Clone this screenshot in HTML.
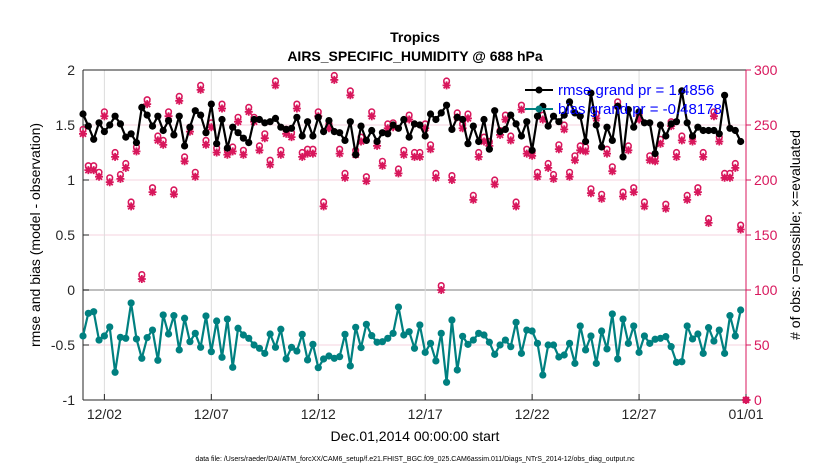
<!DOCTYPE html>
<html><head><meta charset="utf-8"><style>
html,body{margin:0;padding:0;background:#fff;}
svg{display:block;font-family:"Liberation Sans",sans-serif;}
</style></head><body>
<svg id="chart" width="830" height="470" viewBox="0 0 830 470" xmlns="http://www.w3.org/2000/svg">
<g id="grid"></g>
<g id="axes"></g>
<g id="series"></g>
<text x="415" y="42" text-anchor="middle" font-size="14" font-weight="bold">Tropics</text>
<text x="415" y="61" text-anchor="middle" font-size="14" font-weight="bold">AIRS_SPECIFIC_HUMIDITY @ 688 hPa</text>
<text transform="translate(40,235) rotate(-90)" text-anchor="middle" font-size="14">rmse and bias (model - observation)</text>
<text transform="translate(800,235) rotate(-90)" text-anchor="middle" font-size="14"># of obs: o=possible; ×=evaluated</text>
<text x="415" y="441" text-anchor="middle" font-size="14">Dec.01,2014 00:00:00 start</text>
<text x="415" y="461" text-anchor="middle" font-size="7">data file: /Users/raeder/DAI/ATM_forcXX/CAM6_setup/f.e21.FHIST_BGC.f09_025.CAM6assim.011/Diags_NTrS_2014-12/obs_diag_output.nc</text>
<g id="legend">
<line x1="525" y1="90" x2="553" y2="90" stroke="#000" stroke-width="2"/>
<circle cx="539" cy="90" r="3.5" fill="#000"/>
<text x="558" y="95" font-size="15" fill="#0000ff">rmse grand pr = 1.4856</text>
<line x1="525" y1="109" x2="553" y2="109" stroke="#008080" stroke-width="2"/>
<circle cx="539" cy="109" r="3.5" fill="#008080"/>
<text x="558" y="114" font-size="15" fill="#0000ff">bias grand pr = -0.48178</text>
</g>
</svg>
<script>
const rmse=[1.60,1.49,1.37,1.52,1.44,1.50,1.58,1.51,1.39,1.42,1.34,1.66,1.59,1.49,1.58,1.45,1.54,1.41,1.58,1.31,1.48,1.63,1.59,1.43,1.69,1.33,1.55,1.29,1.48,1.43,1.38,1.34,
1.55,1.55,1.52,1.53,1.56,1.48,1.46,1.47,1.57,1.40,1.53,1.40,1.57,1.44,1.54,1.44,1.43,1.36,1.53,1.23,1.49,1.36,1.45,1.35,1.43,1.42,1.50,1.47,1.55,1.39,1.51,
1.50,1.40,1.60,1.55,1.61,1.68,1.46,1.57,1.55,1.33,1.49,1.35,1.55,1.28,1.63,1.44,1.46,1.59,1.51,1.40,1.53,1.27,1.58,1.67,1.49,1.58,1.53,1.59,
1.71,1.61,1.58,1.35,1.79,1.50,1.30,1.48,1.36,1.67,1.21,1.64,1.48,1.62,1.52,1.52,1.24,1.50,1.40,1.51,1.53,1.81,1.52,1.40,1.48,1.45,1.45,1.45,1.42,1.77,1.47,1.45,1.35,null];
const bias=[-0.418,-0.212,-0.197,-0.455,-0.418,-0.336,-0.748,-0.43,-0.439,-0.118,-0.445,-0.621,-0.433,-0.364,-0.639,-0.227,-0.4,-0.233,-0.545,-0.257,-0.47,-0.394,-0.521,-0.236,-0.561,-0.282,-0.612,-0.264,-0.703,-0.348,-0.409,-0.439,-0.5,-0.53,-0.576,-0.4,-0.521,-0.357,-0.627,-0.521,-0.555,-0.403,
-0.636,-0.494,-0.706,-0.627,-0.6,-0.621,-0.606,-0.403,-0.69,-0.339,-0.524,-0.312,-0.415,-0.475,-0.47,-0.439,-0.394,-0.155,-0.409,-0.379,-0.53,-0.318,-0.567,-0.485,-0.645,-0.394,-0.839,-0.273,-0.727,-0.421,-0.494,-0.455,-0.394,-0.409,-0.475,-0.585,-0.5,-0.455,-0.515,-0.294,-0.576,
-0.364,-0.373,-0.485,-0.773,-0.5,-0.5,-0.609,-0.591,-0.485,-0.667,-0.327,-0.545,-0.418,-0.667,-0.373,-0.536,-0.218,-0.627,-0.264,-0.485,-0.327,-0.567,-0.418,-0.485,-0.448,-0.439,-0.424,-0.515,-0.658,-0.652,-0.327,-0.445,-0.4,-0.576,-0.342,-0.464,-0.364,-0.576,-0.233,-0.418,-0.182,null];
const evaluated=[242,209,209,203,258,198,221,201,211,176,226,110,269,189,236,232,258,187,272,217,244,203,282,232,248,225,265,223,226,253,223,262,
253,227,238,214,286,223,242,239,265,221,224,224,258,176,247,291,224,202,277,223,235,199,258,231,213,247,248,206,223,255,221,
221,247,228,202,100,286,200,257,247,256,182,221,235,231,196,241,255,236,176,264,224,222,203,255,211,201,228,246,203,
218,227,226,188,256,183,224,208,267,185,227,189,255,176,218,217,233,174,249,221,236,182,235,189,221,161,258,235,202,202,211,155,0];
const possible=[246,213,213,207,262,202,225,205,215,180,230,114,273,193,240,236,262,191,276,221,248,207,286,236,252,229,269,227,230,257,227,266,
257,231,242,218,290,227,246,243,269,225,228,228,262,180,251,295,228,206,281,227,239,203,262,235,217,251,252,210,227,259,225,
225,251,232,206,104,290,204,261,251,260,186,225,239,235,200,245,259,240,180,268,228,226,207,259,215,205,232,250,207,
222,231,230,192,260,187,228,212,271,189,231,193,259,180,222,221,237,178,253,225,240,186,239,193,225,165,262,239,206,206,215,159,0];
const leftTicks=[2,1.5,1,0.5,0,-0.5,-1];
const leftTickLabels=["2","1.5","1","0.5","0","-0.5","-1"];
const rightTicks=[300,250,200,150,100,50,0];
const dateTicks=[1,6,11,16,21,26,31];
const dateLabels=["12/02","12/07","12/12","12/17","12/22","12/27","01/01"];

const X0=83,X1=746,Y0=70,Y1=400;
const xDay=d=>X0+(d/31)*(X1-X0);
const xIdx=i=>xDay(i*0.25);
const yL=v=>Y0+(2-v)/3*(Y1-Y0);
const yR=c=>Y1-c/300*(Y1-Y0);
const NS="http://www.w3.org/2000/svg";
const MAG="#d8175c";
function mk(tag,attrs,parent){const e=document.createElementNS(NS,tag);for(const k in attrs)e.setAttribute(k,attrs[k]);parent.appendChild(e);return e;}
const grid=document.getElementById('grid'),axes=document.getElementById('axes'),ser=document.getElementById('series');

leftTicks.forEach(v=>{
  const l=mk('line',{x1:X0,x2:X1,y1:yL(v),y2:yL(v),stroke:v===0?'#a8a8a8':'#f6d3df','stroke-width':v===0?1.5:1},grid);
  
  
});
dateTicks.forEach(d=>{
  const l=mk('line',{x1:xDay(d),x2:xDay(d),y1:Y0,y2:Y1,stroke:'#dcdcdc','stroke-width':1},grid);
  
  
});
mk('line',{x1:X0,x2:X1,y1:Y0,y2:Y0,stroke:'#262626','stroke-width':1},axes);
mk('line',{x1:X0,x2:X1,y1:Y1,y2:Y1,stroke:'#262626','stroke-width':1},axes);
mk('line',{x1:X0,x2:X0,y1:Y0,y2:Y1,stroke:'#262626','stroke-width':1},axes);
mk('line',{x1:X1,x2:X1,y1:Y0,y2:Y1,stroke:MAG,'stroke-width':1},axes);
leftTicks.forEach((v,i)=>{
  mk('line',{x1:X0,x2:X0+6,y1:yL(v),y2:yL(v),stroke:'#262626'},axes);
  const t=mk('text',{x:X0-8,y:yL(v)+5,'text-anchor':'end','font-size':14,fill:'#262626'},axes);
  t.textContent=leftTickLabels[i];
  
  
});
rightTicks.forEach(c=>{
  mk('line',{x1:X1,x2:X1+5,y1:yR(c),y2:yR(c),stroke:MAG},axes);
  const t=mk('text',{x:X1+8,y:yR(c)+5,'font-size':14,fill:MAG},axes);
  t.textContent=String(c);
  
  
});
dateTicks.forEach((d,i)=>{
  mk('line',{x1:xDay(d),x2:xDay(d),y1:Y1-6,y2:Y1,stroke:'#262626'},axes);
  const t=mk('text',{x:xDay(d),y:Y1+19,'text-anchor':'middle','font-size':14,fill:'#262626'},axes);
  t.textContent=dateLabels[i];
  
  
});
possible.forEach((c,i)=>{
  const g=mk('circle',{cx:xIdx(i),cy:yR(c),r:2.8,fill:'none',stroke:MAG,'stroke-width':1.6},ser);
  
  
});
evaluated.forEach((c,i)=>{
  const x=xIdx(i),y=yR(c),s=4;
  const p=mk('path',{d:`M${x-s} ${y}H${x+s}M${x} ${y-s}V${y+s}M${x-3} ${y-3}L${x+3} ${y+3}M${x-3} ${y+3}L${x+3} ${y-3}`,stroke:MAG,'stroke-width':1.8},ser);
  
  
});
function drawLine(arr,color,name){
  let d='';arr.forEach((v,i)=>{if(v==null)return;d+=(d?'L':'M')+xIdx(i).toFixed(1)+' '+yL(v).toFixed(1);});
  const p=mk('path',{d:d,fill:'none',stroke:color,'stroke-width':2.2,'stroke-linejoin':'round'},ser);
  
  
  arr.forEach((v,i)=>{if(v==null)return;
    const c=mk('circle',{cx:xIdx(i),cy:yL(v),r:3.6,fill:color},ser);
    
    
  });
}
drawLine(rmse,'#000000','rmse');
drawLine(bias,'#008080','bias');
</script>
</body></html>
